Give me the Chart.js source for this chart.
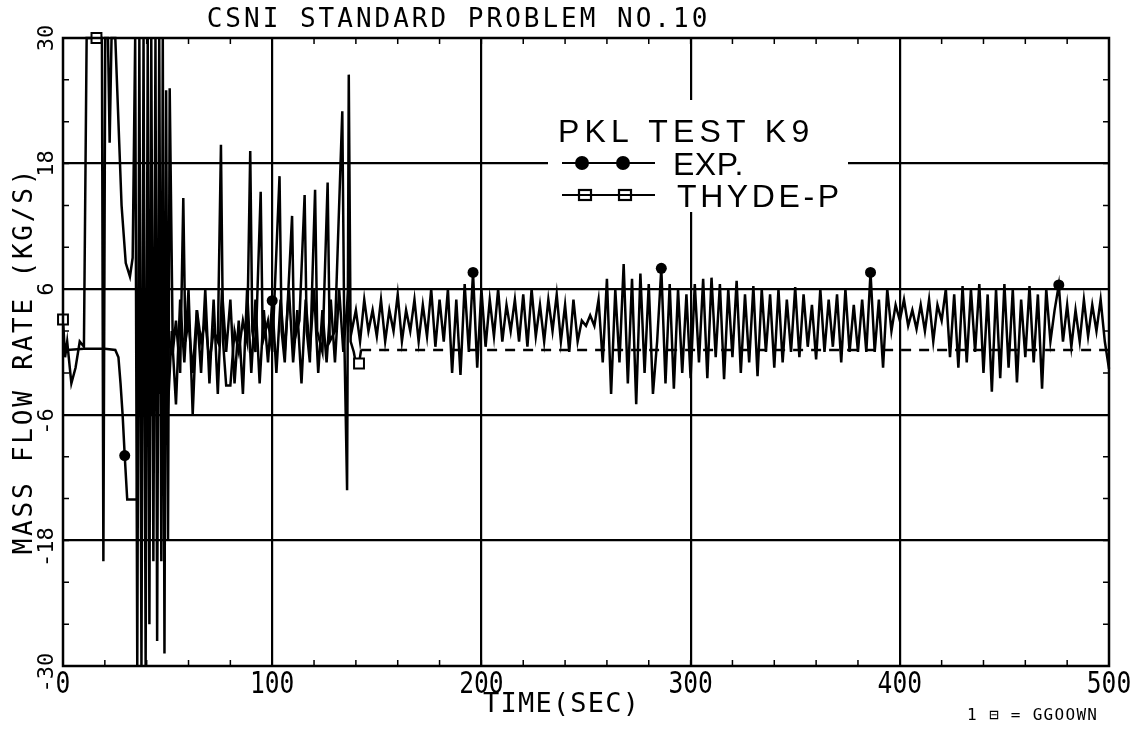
<!DOCTYPE html>
<html lang="en">
  <head>
    <meta charset="utf-8">
    <title>CSNI Standard Problem No.10</title>
    <script src="https://cdn.jsdelivr.net/npm/chart.js@4.4.1/dist/chart.umd.min.js"></script>
    <style>
      html, body { margin: 0; padding: 0; background: #fff; }
      canvas { display: block; }
    </style>
  </head>
  <body>
    <canvas id="chart" width="1143" height="730"></canvas>
    <script>
      // values (time in s, mass flow in kg/s)
      const expTime = [0, 2, 10, 20, 25, 26.5, 27.5, 28.5, 29.5, 30.7, 35.4, 36.2, 38, 40, 42, 44, 46, 48,
        50, 52, 54, 56, 58, 60, 62, 64, 66, 68,
        70, 72, 74, 76, 78, 80, 82, 84, 86, 88,
        90, 92, 94, 96, 98, 100, 102, 104, 106, 108,
        110, 112, 114, 116, 118, 120, 122, 124, 126, 128,
        130, 132, 134, 136, 138, 140, 142, 144, 146, 148,
        150, 152, 154, 156, 158, 160, 162, 164, 166, 168,
        170, 172, 174, 176, 178, 180, 182, 184, 186, 188,
        190, 192, 194, 196, 198, 200, 202, 204, 206, 208,
        210, 212, 214, 216, 218, 220, 222, 224, 226, 228,
        230, 232, 234, 236, 238, 240, 242, 244, 246, 248,
        250, 252, 254, 256, 258, 260, 262, 264, 266, 268,
        270, 272, 274, 276, 278, 280, 282, 284, 286, 288,
        290, 292, 294, 296, 298, 300, 302, 304, 306, 308,
        310, 312, 314, 316, 318, 320, 322, 324, 326, 328,
        330, 332, 334, 336, 338, 340, 342, 344, 346, 348,
        350, 352, 354, 356, 358, 360, 362, 364, 366, 368,
        370, 372, 374, 376, 378, 380, 382, 384, 386, 388,
        390, 392, 394, 396, 398, 400, 402, 404, 406, 408,
        410, 412, 414, 416, 418, 420, 422, 424, 426, 428,
        430, 432, 434, 436, 438, 440, 442, 444, 446, 448,
        450, 452, 454, 456, 458, 460, 462, 464, 466, 468,
        470, 472, 474, 476, 478, 480, 482, 484, 486, 488,
        490, 492, 494, 496, 498, 500];
      const expFlow = [1, 0.2, 0.3, 0.3, 0.2, -0.5, -3, -6, -9.9, -14.1, -14.1, 5, -5, 4, -6, 3, -4, 5,
        -6, 2, -5, 5, -1, 6, -6, 4, -2, 6,
        -3, 5, -4, 6, 0, 5, -3, 3, -4, 6,
        -2, 5, -3, 4, -1, 4.9, -2, 5, 0, 6,
        -1, 4, -3, 5, 0, 6, -2, 4, -1, 5,
        -1, 6, 0, 5, 2, 4, 1, 5, 2, 4,
        1.5, 5, 1, 4, 2, 5.5, 1, 4, 2, 5,
        1, 4.5, 1.5, 6, 0.5, 5, 1, 6, -2, 5,
        -2.2, 6.5, 0, 7.6, -1.5, 6, 0.5, 5, 1.5, 6,
        1, 4.5, 2, 5, 1, 5.5, 0.5, 6, 1.5, 4.5,
        1, 5, 2, 5.5, 1, 4.5, 0, 5, 1, 3,
        2.5, 3.5, 2.5, 5, -1, 7, -4, 6, -1, 8.4,
        -3, 7, -5, 7.5, -2, 6.5, -4, 1, 8.0, -3,
        6.5, -3.5, 6, -2, 5.5, -2.5, 6.5, -1, 7, -2.5,
        7.1, -0.5, 6.5, -2.6, 6, -0.5, 6.8, -2, 5.5, -1,
        6.3, -2.3, 6, 0, 5.5, -1.5, 6, -1, 5, 0,
        6.2, -0.5, 5.5, 0.5, 4.5, -0.7, 6, 0, 5, 0.5,
        5.5, -1, 6, 0, 4.5, 0, 5, 0, 7.6, 0,
        5, -1.5, 6, 2, 4.5, 3, 5, 2.5, 4, 2.2,
        4.5, 2, 5, 1, 4.5, 3, 6, -0.5, 5.5, -1.5,
        6.3, -1, 6, 0, 6.5, -2, 5.5, -3.8, 6, -2.5,
        6.5, -1.5, 6, -2.9, 5, -0.5, 6.3, -1, 5.5, -3.5,
        6, 1, 4, 6.4, 1, 4.5, 0.5, 4, 1, 5,
        1.5, 4.5, 2, 5, 1, -1.6];
      const expMarks = [29.5, 100, 196, 286, 386, 476];

      const thydeTime = [0, 1, 2, 4, 6, 8, 10, 11.3, 16, 18.6, 19.3, 20.2, 21.5, 22.3, 23.2, 25, 28, 30, 32, 33.3,
        34.5, 35.5, 36.5, 37.5, 38.5, 39.5, 40.5, 41.3, 42.2, 43.2, 44.2, 45, 46, 47, 47.7, 48.5, 49.3, 50.2, 51,
        52.5, 54, 56, 57.5, 58.5, 60, 62, 64, 66, 68, 70, 72, 74, 75.5, 76.5, 78, 80, 82, 84, 86, 88,
        89.5, 90.5, 92, 94.5, 95.5, 98, 100, 103.5, 104.5, 106, 109.5, 110.5, 113, 115.5, 116.5, 118,
        120.5, 121.5, 124, 126.5, 127.5, 130, 133.5, 134.5, 135.8, 136.6, 137.5, 139, 140, 141.5, 142.5, 500];
      const thydeFlow = [3.1, -0.5, 1, -3, -1.5, 1, 0.5, 30, 30, 30, -20, 30, 30, 20, 30, 30, 14, 8.5, 7.2, 9,
        30, -30, 30, -30, 30, -30, 30, -26, 30, -20, 30, -27.6, 30, -20, 30, -28.8, 25, -18, 25.2,
        0, 3, -2, 14.7, 1, 3, -2, 4, 1, 3, -1, 2, 1, 19.8, 1, -3.2, -3.2, 2, 0, 3, 1,
        19.2, 2, 0, 15.3, 1, 3, 0, 16.8, 2, -1, 13, 1, 3, 15, 2, -1,
        15.5, 2, 0, 16.2, 1, 2, 23, 1, -13.2, 26.5, 1, 0, -1.1, -1.1, 0.2, 0.2];
      const thydeMarks = [0, 16, 141.5];

      const xTicks = [0, 20, 40, 60, 80, 100, 120, 140, 160, 180, 200, 220, 240, 260, 280, 300,
        320, 340, 360, 380, 400, 420, 440, 460, 480, 500];
      const xLabels = [0, 100, 200, 300, 400, 500];
      const yTicks = [-30, -26, -22, -18, -14, -10, -6, -2, 2, 6, 10, 14, 18, 22, 26, 30];
      const yLabels = [-30, -18, -6, 6, 18, 30];
      const yGrid = [-18, -6, 6, 18];

      const MONO = '"DejaVu Sans Mono", monospace';
      const SANS = '"Liberation Sans", Arial, sans-serif';

      // text with fixed cap height, optional letter spacing / horizontal squeeze
      function label(ctx, text, x, y, o) {
        ctx.save();
        ctx.translate(x, y);
        if (o.rot) ctx.rotate(o.rot);
        ctx.scale(o.sx || 1, 1);
        ctx.font = o.size + 'px ' + (o.font || MONO);
        ctx.fillStyle = '#000';
        ctx.textBaseline = 'alphabetic';
        ctx.textAlign = 'left';
        const sp = o.sp || 0;
        if ('letterSpacing' in ctx) ctx.letterSpacing = '0px';
        const w = ctx.measureText(text).width + sp * (text.length - 1);
        let x0 = 0;
        if (o.align === 'center') x0 = -w / 2;
        if (o.align === 'right') x0 = -w;
        if (o.offset) x0 += o.offset(ctx, sp);
        if ('letterSpacing' in ctx) ctx.letterSpacing = sp + 'px';
        ctx.fillText(text, x0, 0);
        ctx.restore();
      }

      const decor = {
        id: 'decor',
        afterDatasetsDraw(chart) {
          const ctx = chart.ctx;
          const a = chart.chartArea;
          const xs = chart.scales.x, ys = chart.scales.y;

          // minor ticks, pointing into the plot
          ctx.save();
          ctx.strokeStyle = '#000';
          ctx.lineWidth = 1.5;
          ctx.beginPath();
          xTicks.forEach(v => {
            const px = xs.getPixelForValue(v);
            ctx.moveTo(px, a.bottom); ctx.lineTo(px, a.bottom - 6);
            ctx.moveTo(px, a.top); ctx.lineTo(px, a.top + 6);
          });
          yTicks.forEach(v => {
            const py = ys.getPixelForValue(v);
            ctx.moveTo(a.left, py); ctx.lineTo(a.left + 6, py);
            ctx.moveTo(a.right, py); ctx.lineTo(a.right - 6, py);
          });
          ctx.stroke();

          // frame
          ctx.lineWidth = 2.5;
          ctx.strokeRect(a.left, a.top, a.right - a.left, a.bottom - a.top);

          // legend block
          ctx.fillStyle = '#fff';
          ctx.fillRect(548, 100, 300, 112);
          ctx.lineWidth = 2.2;
          ctx.beginPath();
          ctx.moveTo(562, 163); ctx.lineTo(655, 163);
          ctx.moveTo(562, 195); ctx.lineTo(655, 195);
          ctx.stroke();
          ctx.fillStyle = '#000';
          [582, 623].forEach(cx => {
            ctx.beginPath(); ctx.arc(cx, 163, 7, 0, Math.PI * 2); ctx.fill();
          });
          ctx.fillStyle = '#fff';
          [585, 625].forEach(cx => {
            ctx.fillRect(cx - 6, 190, 12, 10);
            ctx.strokeRect(cx - 6, 190, 12, 10);
          });
          ctx.beginPath();
          ctx.moveTo(579, 195); ctx.lineTo(591, 195);
          ctx.moveTo(619, 195); ctx.lineTo(631, 195);
          ctx.stroke();
          ctx.restore();

          label(ctx, 'PKL TEST K9', 558, 142, { size: 32, font: SANS, sp: 5.2 });
          label(ctx, 'EXP.', 673, 175, { size: 32, font: SANS, sp: 0.5 });
          label(ctx, 'THYDE-P', 677, 207, { size: 32, font: SANS, sp: 3.6 });

          // title, axis titles and tick labels
          label(ctx, 'CSNI STANDARD PROBLEM NO.10', 457, 27, { size: 26, sp: 3, align: 'center' });
          xLabels.forEach(v => {
            label(ctx, String(v), xs.getPixelForValue(v), 693, { size: 30, sx: 0.82, align: 'center' });
          });
          label(ctx, 'TIME(SEC)', 561, 712, { size: 27, sp: 1.2, align: 'center' });
          yLabels.forEach(v => {
            const s = String(v);
            const py = ys.getPixelForValue(v);
            // digits centred on the value, minus sign hanging below
            label(ctx, s, 53, py, {
              size: 22, rot: -Math.PI / 2,
              offset: (c) => {
                const digits = s.replace('-', '');
                const wd = c.measureText(digits).width;
                const wm = s.length > digits.length ? c.measureText('-').width : 0;
                return -(wm + wd / 2);
              }
            });
          });
          label(ctx, 'MASS FLOW RATE (KG/S)', 32, 362, { size: 26, sp: 2.8, rot: -Math.PI / 2, align: 'center' });
          label(ctx, '1 \u229F = GGOOWN', 1032, 720, { size: 16, sp: 1.3, align: 'center' });
        }
      };

      const ctx = document.getElementById('chart').getContext('2d');
      const chart = new Chart(ctx, {
        type: 'line',
        data: {
          datasets: [
            {
              label: 'EXP.',
              data: expTime.map((t, i) => ({ x: t, y: expFlow[i] })),
              borderColor: '#000',
              backgroundColor: '#000',
              borderWidth: 2.5,
              tension: 0,
              pointStyle: 'circle',
              pointRadius: c => expMarks.includes(c.raw && c.raw.x) ? 5.5 : 0,
              pointBorderWidth: 0,
              clip: 6
            },
            {
              label: 'THYDE-P',
              data: thydeTime.map((t, i) => ({ x: t, y: thydeFlow[i] })),
              borderColor: '#000',
              backgroundColor: '#fff',
              borderWidth: 2.5,
              tension: 0,
              pointStyle: 'rect',
              pointRadius: c => thydeMarks.includes(c.raw && c.raw.x) ? 7 : 0,
              pointBorderWidth: 2,
              segment: {
                borderDash: c => c.p0.parsed.x >= 142 ? [10, 8] : undefined
              },
              clip: { left: 8, top: 8, right: 0, bottom: 0 }
            }
          ]
        },
        options: {
          responsive: false,
          animation: false,
          devicePixelRatio: 1,
          layout: { padding: { left: 63, right: 34, top: 38, bottom: 64 } },
          plugins: { legend: { display: false }, tooltip: { enabled: false }, title: { display: false } },
          scales: {
            x: {
              type: 'linear', min: 0, max: 500,
              afterBuildTicks: s => { s.ticks = xTicks.map(v => ({ value: v })); },
              ticks: { display: false },
              border: { display: false },
              grid: {
                drawTicks: false,
                lineWidth: 2.2,
                color: c => (c.tick && c.tick.value % 100 === 0 && c.tick.value > 0 && c.tick.value < 500) ? '#000' : 'rgba(0,0,0,0)'
              }
            },
            y: {
              type: 'linear', min: -30, max: 30,
              afterBuildTicks: s => { s.ticks = yTicks.map(v => ({ value: v })); },
              ticks: { display: false },
              border: { display: false },
              grid: {
                drawTicks: false,
                lineWidth: 2.2,
                color: c => (c.tick && yGrid.includes(c.tick.value)) ? '#000' : 'rgba(0,0,0,0)'
              }
            }
          }
        },
        plugins: [decor]
      });
    </script>
  </body>
</html>
